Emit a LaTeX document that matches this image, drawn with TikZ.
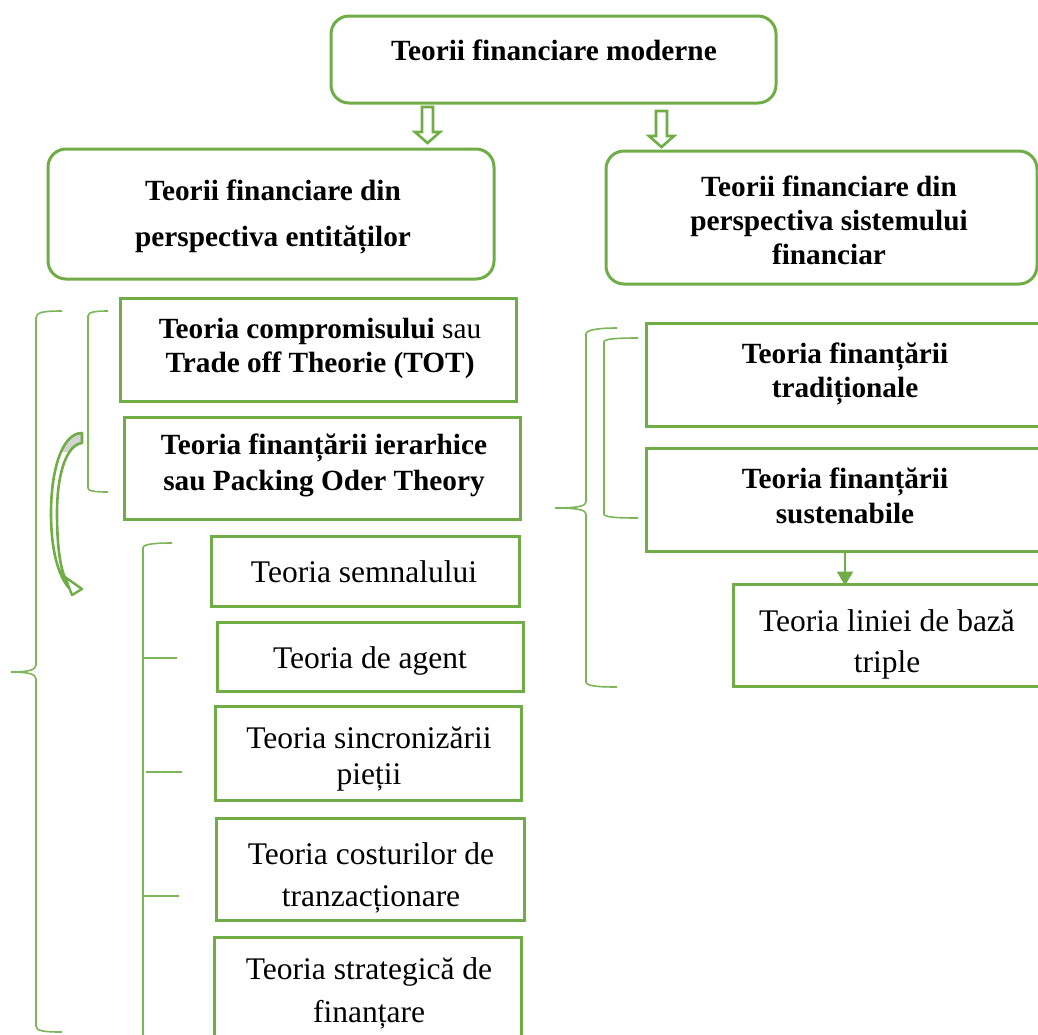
\documentclass[tikz,border=0pt]{standalone}
\usepackage{fontspec}
\setmainfont{Liberation Serif}
\usetikzlibrary{arrows.meta,calc,fit}
\definecolor{ofgreen}{RGB}{112,173,71}
\definecolor{brgreen}{RGB}{125,182,88}

\begin{document}
\begin{tikzpicture}[x=1pt,y=-1pt,
  rbox/.style={draw=ofgreen, line width=3pt, rounded corners=18pt, inner sep=0pt},
  sbox/.style={draw=ofgreen, line width=3pt, inner sep=0pt},
  btxt/.style={font=\fontsize{29.3}{#1}\selectfont\bfseries, align=center, anchor=base, inner sep=0pt},
  rtxt/.style={font=\fontsize{31.5}{#1}\selectfont, align=center, anchor=base, inner sep=0pt},
  bracket/.style={draw=brgreen, line width=1.6pt},
  hollowdown/.pic={\draw[draw=ofgreen, line width=2.6pt, fill=white, line join=miter]
     (-5.5,0) -- (5.5,0) -- (5.5,25) -- (12.5,25) -- (0,36) -- (-12.5,25) -- (-5.5,25) -- cycle;},
]
\useasboundingbox (0,0) rectangle (1038,1034);
\clip (0,0) rectangle (1038,1034);

% boxes
\node[rbox, fit={(331,16) (776,103)}] (top) {};
\node[rbox, fit={(48,149) (494,279)}] (ent) {};
\node[rbox, fit={(606,151) (1037,284)}] (sys) {};
\node[sbox, fit={(120,298) (516,401)}] (tot) {};
\node[sbox, fit={(124,417) (520,519)}] (pot) {};
\node[sbox, fit={(211,536) (519,606)}] (sem) {};
\node[sbox, fit={(217,622) (523,691)}] (agt) {};
\node[sbox, fit={(215,706) (521,800)}] (sin) {};
\node[sbox, fit={(216,818) (524,920)}] (cos) {};
\node[sbox, fit={(214,937) (521,1050)}] (str) {};
\node[sbox, fit={(646,323) (1041,426)}] (trad) {};
\node[sbox, fit={(646,448) (1041,551)}] (sus) {};
\node[sbox, fit={(733,584) (1041,686)}] (lin) {};

% texts (base anchor = baseline of the last line)
\node[btxt=35] (tTop) at (554,60) {Teorii financiare moderne};
\node[btxt=46] (tEnt) at (273,246) {Teorii financiare din\\perspectiva entităților};
\node[btxt=34] (tSys) at (829,264) {Teorii financiare din\\perspectiva sistemului\\financiar};
\node[btxt=34] (tTot) at (320,372) {Teoria compromisului \textmd{sau}\\Trade off Theorie (TOT)};
\node[btxt=36] (tPot) at (324,490) {Teoria finanțării ierarhice\\sau Packing Oder Theory};
\node[rtxt=40] (tSem) at (364,582) {Teoria semnalului};
\node[rtxt=40] (tAgt) at (370,668) {Teoria de agent};
\node[rtxt=36] (tSin) at (369,784) {Teoria sincronizării\\pieții};
\node[rtxt=42] (tCos) at (371,906) {Teoria costurilor de\\tranzacționare};
\node[rtxt=43] (tStr) at (369,1022) {Teoria strategică de\\finanțare};
\node[btxt=34] (tTrad) at (845,397) {Teoria finanțării\\tradiționale};
\node[btxt=35] (tSus) at (845,523) {Teoria finanțării\\sustenabile};
\node[rtxt=41] (tLin) at (887,672) {Teoria liniei de bază\\triple};

% hollow block arrows under the top box
\pic at (427.5,107) {hollowdown};
\pic at (661.5,111) {hollowdown};

% arrow from sustainable finance to the triple bottom line
\coordinate (xa) at (845,0);
\draw[draw=ofgreen, line width=2pt, -{Triangle[length=14pt,width=16pt]}]
  (sus.south -| xa) -- ([yshift=-3pt]lin.north -| xa);

% left braces and brackets
\draw[bracket] (62,311) .. controls (44,311) and (36,312) .. (36,318) -- (36,665)
  .. controls (36,670) and (28,672) .. (11,672) .. controls (28,672) and (36,674) .. (36,679)
  -- (36,1026) .. controls (36,1031) and (44,1032) .. (62,1032);
\draw[bracket] (108,311) .. controls (95,311) and (88,312) .. (88,316) -- (88,488)
  .. controls (88,491) and (95,492) .. (108,492);
\draw[bracket] (172,543) .. controls (155,543) and (143,544) .. (143,548) -- (143,1040);
\draw[bracket] (143,658) -- (177,658);
\draw[bracket] (146,772) -- (182,772);
\draw[bracket] (143,896) -- (179,896);

% right braces and brackets
\draw[bracket] (617,328) .. controls (598,328) and (586,330) .. (586,334) -- (586,502)
  .. controls (586,506) and (578,508) .. (555,508) .. controls (578,508) and (586,510) .. (586,514)
  -- (586,682) .. controls (586,686) and (598,687) .. (617,687);
\draw[bracket] (638,338) .. controls (615,338) and (604,339) .. (604,342) -- (604,514)
  .. controls (604,517) and (615,518) .. (638,518);

% curved arrow beside the left column
\def\bandpath{(82,433) .. controls (62,433) and (51,470) .. (51,513)
  .. controls (51,550) and (58,575) .. (69,588) -- (67,582)
  .. controls (60,570) and (57,545) .. (57,513)
  .. controls (57,475) and (66,445) .. (82,443) -- cycle}
\fill[white] \bandpath;
\begin{scope}
  \clip \bandpath;
  \fill[gray!35] (40,428) rectangle (90,452);
\end{scope}
\draw[draw=ofgreen, line width=2.6pt, line join=round] \bandpath;
\draw[draw=ofgreen, line width=2.4pt, fill=white, line join=round] (65,577) -- (82,589) -- (72,595) -- cycle;
\end{tikzpicture}
\end{document}
